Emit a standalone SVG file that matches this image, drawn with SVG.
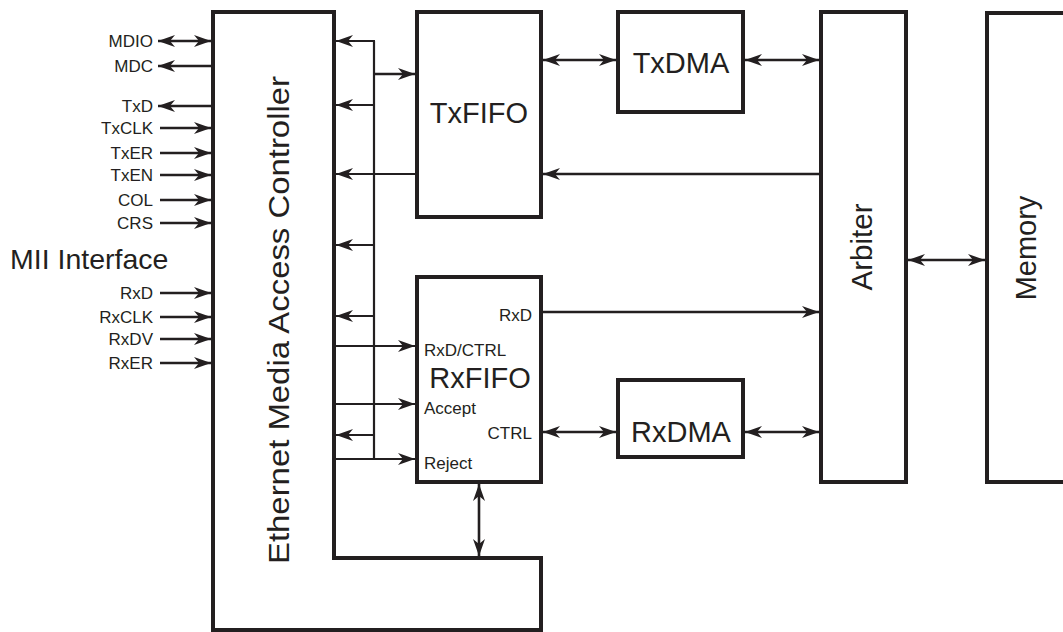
<svg xmlns="http://www.w3.org/2000/svg" width="1063" height="632" viewBox="0 0 1063 632">
<defs>
<marker id="ah" viewBox="0 0 17 12" refX="17" refY="6" markerWidth="17" markerHeight="12" markerUnits="userSpaceOnUse" orient="auto-start-reverse">
<path d="M0,0 L17,6 L0,12 L5,6 Z" fill="#231f20"/>
</marker>
</defs>
<style>
.box{fill:#fff;stroke:#231f20;stroke-width:4}
.ln{fill:none;stroke:#231f20;stroke-width:2.6}
.bus{fill:none;stroke:#231f20;stroke-width:2.2}
.e{marker-end:url(#ah)}
.b{marker-start:url(#ah);marker-end:url(#ah)}
text{font-family:"Liberation Sans",Arial,Helvetica,sans-serif;fill:#231f20}
.sm{font-size:17px}
.r{text-anchor:end}
.big{font-size:29px;text-anchor:middle}
</style>
<rect width="1063" height="632" fill="#fff"/>

<g id="mac">
<path class="box" d="M213,12 H334 V558 H541 V630 H213 Z"/>
<text transform="translate(289,320) rotate(-90)" font-size="30" text-anchor="middle" textLength="488" lengthAdjust="spacingAndGlyphs">Ethernet Media Access Controller</text>
</g>

<g id="txfifo">
<rect class="box" x="417" y="12" width="124" height="205"/>
<text class="big" x="479" y="123">TxFIFO</text>
</g>

<g id="txdma">
<rect class="box" x="618" y="12" width="125" height="100"/>
<text class="big" x="681" y="73">TxDMA</text>
</g>

<g id="rxfifo">
<rect class="box" x="417" y="277" width="124" height="205"/>
<text class="big" x="480" y="388">RxFIFO</text>
<text class="sm r" x="532" y="321">RxD</text>
<text class="sm" x="424" y="356">RxD/CTRL</text>
<text class="sm" x="424" y="414">Accept</text>
<text class="sm r" x="532" y="439">CTRL</text>
<text class="sm" x="424" y="469">Reject</text>
</g>

<g id="rxdma">
<rect class="box" x="618" y="380" width="125" height="77"/>
<text class="big" x="681" y="442">RxDMA</text>
</g>

<g id="arbiter">
<rect class="box" x="821" y="12" width="85" height="470"/>
<text transform="translate(872,247) rotate(-90)" font-size="29.5" text-anchor="middle">Arbiter</text>
</g>

<g id="memory">
<rect class="box" x="987" y="13" width="90" height="469"/>
<text transform="translate(1036,248) rotate(-90)" font-size="29" text-anchor="middle">Memory</text>
</g>

<g id="mii">
<text x="10" y="269" font-size="28.5">MII Interface</text>
<text class="sm r" x="153" y="47">MDIO</text>
<text class="sm r" x="153" y="72">MDC</text>
<text class="sm r" x="153" y="112">TxD</text>
<text class="sm r" x="153" y="134">TxCLK</text>
<text class="sm r" x="153" y="159">TxER</text>
<text class="sm r" x="153" y="181">TxEN</text>
<text class="sm r" x="153" y="206">COL</text>
<text class="sm r" x="153" y="229">CRS</text>
<text class="sm r" x="153" y="299">RxD</text>
<text class="sm r" x="153" y="323">RxCLK</text>
<text class="sm r" x="153" y="345">RxDV</text>
<text class="sm r" x="153" y="369">RxER</text>
</g>

<g id="connectors">
<!-- MII signals -->
<line class="ln b" x1="158" y1="41" x2="211" y2="41"/>
<line class="ln e" x1="211" y1="66" x2="158" y2="66"/>
<line class="ln e" x1="211" y1="106" x2="158" y2="106"/>
<line class="ln e" x1="160" y1="128" x2="211" y2="128"/>
<line class="ln e" x1="160" y1="153" x2="211" y2="153"/>
<line class="ln e" x1="160" y1="175" x2="211" y2="175"/>
<line class="ln e" x1="160" y1="200" x2="211" y2="200"/>
<line class="ln e" x1="160" y1="223" x2="211" y2="223"/>
<line class="ln e" x1="160" y1="293" x2="211" y2="293"/>
<line class="ln e" x1="160" y1="317" x2="211" y2="317"/>
<line class="ln e" x1="160" y1="339" x2="211" y2="339"/>
<line class="ln e" x1="160" y1="363" x2="211" y2="363"/>
<!-- control bus -->
<path class="bus" d="M374,459 V41"/>
<line class="bus e" x1="375" y1="41" x2="336" y2="41"/>
<line class="ln e" x1="374" y1="74" x2="415" y2="74"/>
<line class="bus e" x1="374" y1="105" x2="336" y2="105"/>
<line class="bus e" x1="415" y1="174" x2="336" y2="174"/>
<line class="bus e" x1="374" y1="245" x2="336" y2="245"/>
<line class="bus e" x1="374" y1="316" x2="336" y2="316"/>
<line class="bus e" x1="336" y1="346" x2="415" y2="346"/>
<line class="bus e" x1="336" y1="404" x2="415" y2="404"/>
<line class="bus e" x1="374" y1="435" x2="336" y2="435"/>
<line class="bus e" x1="336" y1="459" x2="415" y2="459"/>
<!-- data paths -->
<line class="ln b" x1="543" y1="60" x2="616" y2="60"/>
<line class="ln b" x1="745" y1="60" x2="819" y2="60"/>
<line class="ln e" x1="819" y1="174" x2="543" y2="174"/>
<line class="ln e" x1="543" y1="312" x2="819" y2="312"/>
<line class="ln b" x1="543" y1="432" x2="616" y2="432"/>
<line class="ln b" x1="745" y1="432" x2="819" y2="432"/>
<line class="ln b" x1="908" y1="260" x2="985" y2="260"/>
<line class="ln b" x1="479" y1="484" x2="479" y2="556"/>
</g>
</svg>
